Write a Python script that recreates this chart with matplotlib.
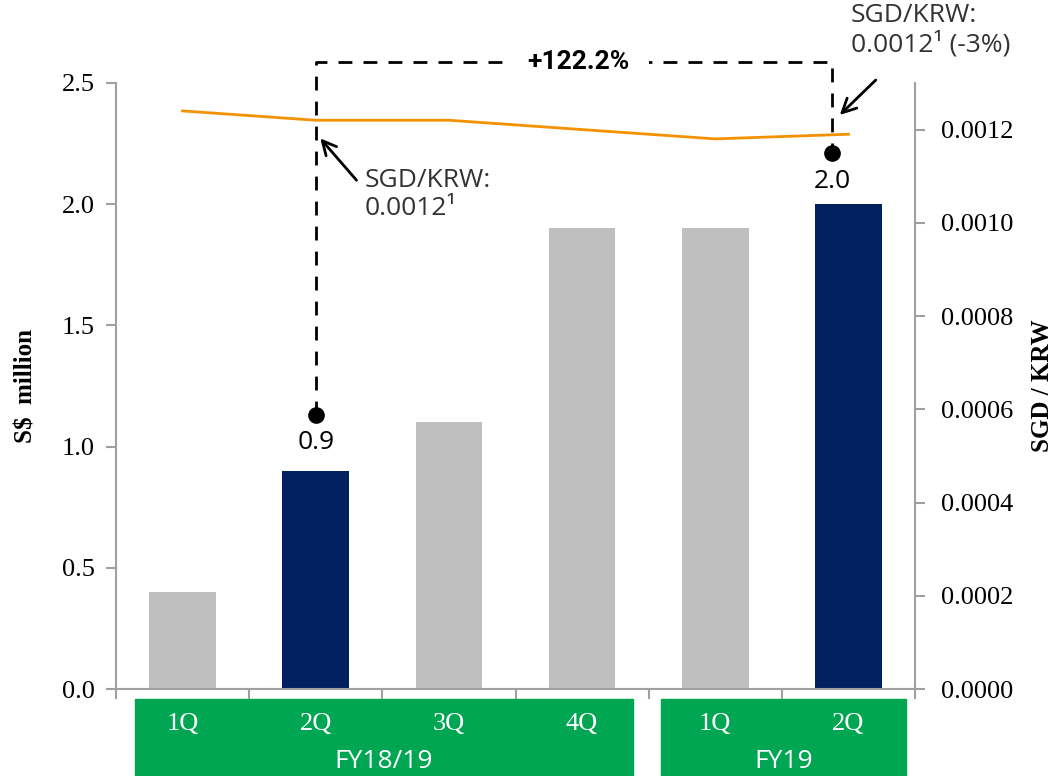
import matplotlib.pyplot as plt
from matplotlib.patches import Rectangle
from matplotlib.ticker import FormatStrFormatter
import matplotlib.transforms as mtransforms

quarters = ["1Q", "2Q", "3Q", "4Q", "1Q", "2Q"]
revenue = [0.4, 0.9, 1.1, 1.9, 1.9, 2.0]
sgd_krw = [0.00124, 0.00122, 0.00122, 0.00120, 0.00118, 0.00119]
highlight = [False, True, False, False, False, True]
fy_groups = ["FY18/19", "FY19"]
growth_label = "+122.2%"

GRAY = "#BFBFBF"
NAVY = "#002060"
ORANGE = "#F39200"
GREEN = "#00A651"
SPINE = "#A0A0A0"
SERIF = ["Liberation Serif", "DejaVu Serif"]
SANS = ["Open Sans", "DejaVu Sans"]

fig = plt.figure(figsize=(10.64, 7.76), dpi=100)
ax = fig.add_axes([0.109, 0.1121, 0.751, 0.781])
x = list(range(len(revenue)))
colors = [NAVY if h else GRAY for h in highlight]
ax.bar(x, revenue, width=0.5, color=colors, zorder=2)
ax.set_xlim(-0.5, len(revenue) - 0.5)
ax.set_ylim(0, 2.5)
ax.set_yticks([0, 0.5, 1.0, 1.5, 2.0, 2.5])
ax.yaxis.set_major_formatter(FormatStrFormatter("%.1f"))
ax.set_xticks([i - 0.5 for i in range(len(revenue) + 1)])
ax.set_xticklabels([])
for s in ["top", "right"]:
    ax.spines[s].set_visible(False)
for s in ["left", "bottom"]:
    ax.spines[s].set_color(SPINE)
    ax.spines[s].set_linewidth(1.5)
ax.tick_params(axis="both", colors=SPINE, length=7, width=1.5, direction="out")
ax.tick_params(axis="y", labelcolor="black", labelsize=19, pad=8)
for t in ax.get_yticklabels():
    t.set_family(SERIF)
ax.set_ylabel("S$  million", fontsize=18, fontweight="bold", family=SERIF, labelpad=18)

ax2 = ax.twinx()
ax2.plot(x, sgd_krw, color=ORANGE, linewidth=2, zorder=3)
ax2.set_ylim(0, 0.0013)
ax2.set_yticks([0, 0.0002, 0.0004, 0.0006, 0.0008, 0.0010, 0.0012])
ax2.yaxis.set_major_formatter(FormatStrFormatter("%.4f"))
for s in ["top", "left", "bottom"]:
    ax2.spines[s].set_visible(False)
ax2.spines["right"].set_color(SPINE)
ax2.spines["right"].set_linewidth(1.5)
ax2.tick_params(axis="y", colors=SPINE, labelcolor="black", labelsize=19, length=7, width=1.5, pad=12)
for t in ax2.get_yticklabels():
    t.set_family(SERIF)
ax2.set_ylabel("SGD / KRW", fontsize=18, fontweight="bold", family=SERIF, labelpad=12)

# green category boxes below the axis
trans = mtransforms.blended_transform_factory(ax.transData, ax.transAxes)
boxes = [(-0.357, 3.382), (3.592, 5.43)]
for (x0, x1), name in zip(boxes, fy_groups):
    ax.add_patch(Rectangle((x0, -0.16), x1 - x0, 0.1435, transform=trans, color=GREEN,
                           clip_on=False, zorder=1))
    ax.text((x0 + x1) / 2, -0.12, name, transform=trans, color="white", fontsize=19,
            family=SANS, ha="center", va="center")
for xi, q in zip(x, quarters):
    ax.text(xi, -0.057, q, transform=trans, color="white", fontsize=19, family=SERIF,
            ha="center", va="center")

# dashed growth bracket
left_x, right_x = x[1], 4.88
dot_left, dot_right, top_y = 1.13, 2.21, 2.587
ax.plot([left_x, left_x, right_x, right_x], [dot_left, top_y, top_y, dot_right],
        color="black", linewidth=2, dashes=(5, 4), clip_on=False, zorder=4)
ax.plot([left_x, right_x], [dot_left, dot_right], "o", color="black", markersize=11,
        clip_on=False, zorder=5)
ax.text(2.97, top_y, growth_label, fontsize=19, fontweight="bold", family=["Roboto", "DejaVu Sans"],
        ha="center", va="center", zorder=6,
        bbox=dict(facecolor="white", edgecolor="none", pad=14))
ax.text(left_x, dot_left - 0.115, f"{revenue[1]:.1f}", fontsize=19, family=SANS,
        ha="center", va="center")
ax.text(right_x, dot_right - 0.115, f"{revenue[5]:.1f}", fontsize=19, family=SANS,
        ha="center", va="center")

# rate annotations
ax.annotate("", xy=(1.02, 2.28), xytext=(1.32, 2.09),
            arrowprops=dict(arrowstyle="->", color="black", lw=2, mutation_scale=25))
ax.text(1.37, 2.15, "SGD/KRW:\n0.0012\u00b9", fontsize=19, family=SANS, color="#333333",
        ha="left", va="top", linespacing=1.15)
ax.annotate("", xy=(4.92, 2.36), xytext=(5.22, 2.52),
            arrowprops=dict(arrowstyle="->", color="black", lw=2, mutation_scale=25),
            annotation_clip=False)
ax.text(5.02, 2.83, "SGD/KRW:\n0.0012\u00b9 (-3%)", fontsize=19, family=SANS, color="#333333",
        ha="left", va="top", linespacing=1.15)

fig.savefig("out.png", dpi=100)
